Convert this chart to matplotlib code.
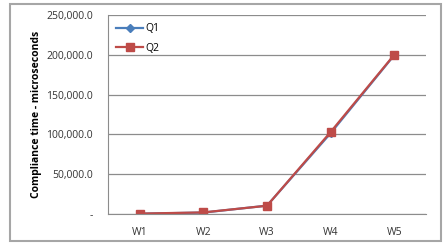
import matplotlib.pyplot as plt
from matplotlib.patches import Rectangle

# data
weeks = ["W1", "W2", "W3", "W4", "W5"]
q1 = [400, 1800, 10500, 101500, 199500]
q2 = [500, 2000, 10400, 103000, 200000]
yticks = [0, 50000, 100000, 150000, 200000, 250000]

plt.rcParams['font.family'] = ['Open Sans', 'DejaVu Sans']

fig = plt.figure(figsize=(4.43, 2.45), dpi=100)
ax = fig.add_axes([0.2438, 0.1265, 0.7178, 0.8122])

x = range(len(weeks))
ax.plot(x, q1, color="#4A7EBB", lw=1.6, marker="D", ms=4, label="Q1")
ax.plot(x, q2, color="#BE4B48", lw=1.6, marker="s", ms=5.5, label="Q2")

ax.set_xlim(-0.5, len(weeks) - 0.5)
ax.set_ylim(0, 250000)
ax.set_xticks(list(x))
ax.set_xticklabels(weeks)
ax.set_yticks(yticks)
ax.set_yticklabels(["-" if v == 0 else f"{v:,.1f}" for v in yticks])
ax.tick_params(length=0, labelsize=7.5, colors="#333333")
ax.tick_params(axis="y", pad=11)
ax.tick_params(axis="x", pad=9)
ax.yaxis.grid(True, color="#8c8c8c", lw=0.9)
ax.set_axisbelow(True)
for s in ["top", "right"]:
    ax.spines[s].set_visible(False)
for s in ["left", "bottom"]:
    ax.spines[s].set_color("#8c8c8c")

ax.set_ylabel("Compliance time - microseconds", fontsize=7.5, fontweight="bold", labelpad=3)

ax.legend(loc="upper left", frameon=False, fontsize=7.5, handlelength=2.6,
          handletextpad=0.2, labelspacing=0.8, borderaxespad=0.4)

# outer chart frame
fig.patches.append(Rectangle((0.023, 0.018), 0.972, 0.967, transform=fig.transFigure,
                             fill=False, edgecolor="#a6a6a6", lw=1.5))

fig.savefig("out.png", dpi=100)
